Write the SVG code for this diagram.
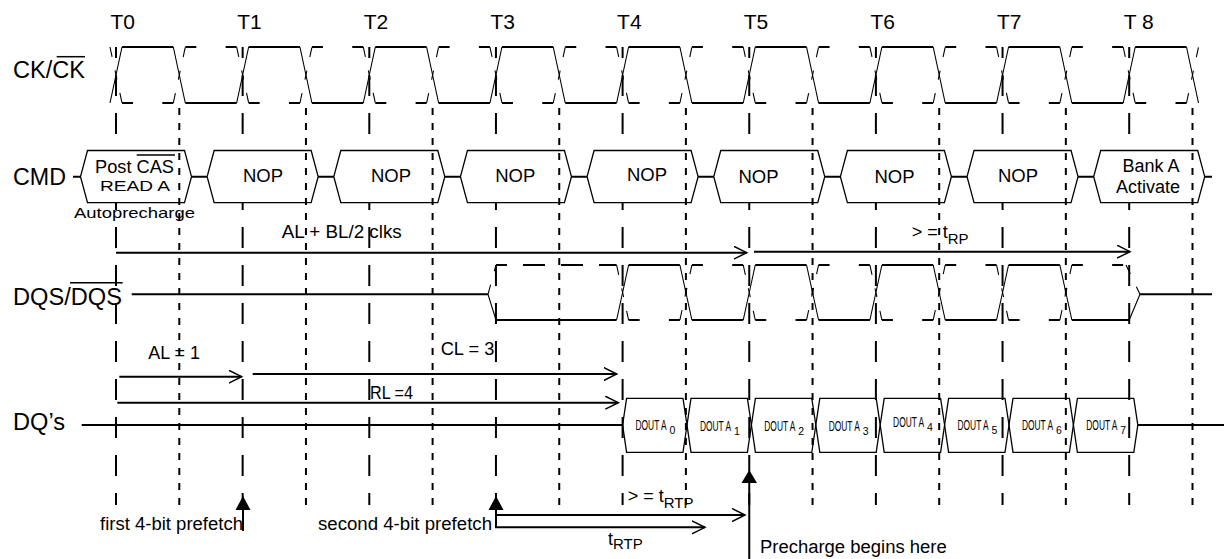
<svg xmlns="http://www.w3.org/2000/svg" width="1224" height="559" viewBox="0 0 1224 559">
<defs>
<style>
text{font-family:"Liberation Sans",Arial,sans-serif;fill:#000}
.h{stroke:#000;stroke-width:2;fill:none}
.s{stroke:#000;stroke-width:1.1;fill:none}
.dh{stroke-dasharray:11 29.3 11 60}
.ds{stroke-dasharray:10 14 9 14 10 60}
.tl{stroke:#000;stroke-width:2;fill:none;stroke-dasharray:21 17;stroke-dashoffset:10}
.fl{stroke:#000;stroke-width:2;fill:none;stroke-dasharray:7 8}
.box{fill:#fff;stroke:#000;stroke-width:1.3}
.dbox{fill:none;stroke:#000;stroke-width:1.3}
.arr{stroke:#000;stroke-width:2;fill:none;marker-end:url(#oa)}
.lbl{font-size:23.5px}
.t{font-size:21px}
.m{font-size:18px}
.n{font-size:18.5px}
.d{font-size:14px}
.sub{font-size:10.5px}
</style>
<marker id="oa" markerUnits="userSpaceOnUse" markerWidth="16" markerHeight="16" refX="13" refY="7" orient="auto"><path d="M0,0.5 L13,7 L0,13.5" fill="none" stroke="#000" stroke-width="1.5"/></marker>
</defs>
<rect width="1224" height="559" fill="#fff"/>

<g id="time-labels" class="t">
<text x="110.5" y="29">T0</text>
<text x="237.2" y="29">T1</text>
<text x="363.8" y="29">T2</text>
<text x="490.5" y="29">T3</text>
<text x="617.1" y="29">T4</text>
<text x="743.8" y="29">T5</text>
<text x="870.4" y="29">T6</text>
<text x="997" y="29">T7</text>
<text x="1123.7" y="29">T 8</text>
</g>

<g id="grid-rising">
<path class="tl" d="M116,47V505M242.65,47V505M369.3,47V505M495.95,47V505M622.6,47V505M749.25,47V505M875.9,47V505M1002.55,47V505M1129.2,47V505"/>
</g>

<g id="row-labels">
<text class="lbl" x="13" y="77.5" textLength="72" lengthAdjust="spacingAndGlyphs">CK/CK</text>
<line x1="56.7" y1="56.7" x2="85" y2="56.7" stroke="#000" stroke-width="1.5"/>
<text class="lbl" x="13" y="185" textLength="53" lengthAdjust="spacingAndGlyphs">CMD</text>
<text class="lbl" x="13" y="305" textLength="109" lengthAdjust="spacingAndGlyphs">DQS/DQS</text>
<line x1="70" y1="282.7" x2="122.7" y2="282.7" stroke="#000" stroke-width="1.5"/>
<text class="lbl" x="13" y="430" textLength="52" lengthAdjust="spacingAndGlyphs">DQ’s</text>
</g>

<g id="signal-ck">
<path class="h" d="M122,47H173.3M248.65,47H299.95M375.3,47H426.6M501.95,47H553.25M628.6,47H679.9M755.25,47H806.55M881.9,47H933.2M1008.55,47H1059.85M1135.2,47H1186.5M185.3,103H236.65M311.95,103H363.3M438.6,103H489.95M565.25,103H616.6M691.9,103H743.25M818.55,103H869.9M945.2,103H996.55M1071.85,103H1123.2"/>
<path class="s" d="M110,103L122,47M236.65,103L248.65,47M363.3,103L375.3,47M489.95,103L501.95,47M616.6,103L628.6,47M743.25,103L755.25,47M869.9,103L881.9,47M996.55,103L1008.55,47M1123.2,103L1135.2,47M173.3,47L185.3,103M299.95,47L311.95,103M426.6,47L438.6,103M553.25,47L565.25,103M679.9,47L691.9,103M806.55,47L818.55,103M933.2,47L945.2,103M1059.85,47L1071.85,103M1186.5,47L1198.5,103"/>
</g>
<g id="signal-ck-n">
<path class="h dh" d="M122,103H173.3M248.65,103H299.95M375.3,103H426.6M501.95,103H553.25M628.6,103H679.9M755.25,103H806.55M881.9,103H933.2M1008.55,103H1059.85M1135.2,103H1186.5M185.3,47H236.65M311.95,47H363.3M438.6,47H489.95M565.25,47H616.6M691.9,47H743.25M818.55,47H869.9M945.2,47H996.55M1071.85,47H1123.2"/>
<path class="s ds" d="M110,47L122,103M236.65,47L248.65,103M363.3,47L375.3,103M489.95,47L501.95,103M616.6,47L628.6,103M743.25,47L755.25,103M869.9,47L881.9,103M996.55,47L1008.55,103M1123.2,47L1135.2,103M173.3,103L185.3,47M299.95,103L311.95,47M426.6,103L438.6,47M553.25,103L565.25,47M679.9,103L691.9,47M806.55,103L818.55,47M933.2,103L945.2,47M1059.85,103L1071.85,47M1186.5,103L1198.5,47"/>
</g>

<g id="cmd-bus">
<path class="h" d="M73,176.7H1212" stroke-width="1.6"/>
</g>
<g id="cmd-0"><polygon class="box" points="80.5,176.7 87.5,150.5 184.5,150.5 191.5,176.7 184.5,202.7 87.5,202.7"/></g>
<g id="cmd-1"><polygon class="box" points="207.15,176.7 214.15,150.5 311.15,150.5 318.15,176.7 311.15,202.7 214.15,202.7"/></g>
<g id="cmd-2"><polygon class="box" points="333.8,176.7 340.8,150.5 437.8,150.5 444.8,176.7 437.8,202.7 340.8,202.7"/></g>
<g id="cmd-3"><polygon class="box" points="460.45,176.7 467.45,150.5 564.45,150.5 571.45,176.7 564.45,202.7 467.45,202.7"/></g>
<g id="cmd-4"><polygon class="box" points="587.1,176.7 594.1,150.5 691.1,150.5 698.1,176.7 691.1,202.7 594.1,202.7"/></g>
<g id="cmd-5"><polygon class="box" points="713.75,176.7 720.75,150.5 817.75,150.5 824.75,176.7 817.75,202.7 720.75,202.7"/></g>
<g id="cmd-6"><polygon class="box" points="840.4,176.7 847.4,150.5 944.4,150.5 951.4,176.7 944.4,202.7 847.4,202.7"/></g>
<g id="cmd-7"><polygon class="box" points="967.05,176.7 974.05,150.5 1071.05,150.5 1078.05,176.7 1071.05,202.7 974.05,202.7"/></g>
<g id="cmd-8"><polygon class="box" points="1093.7,176.7 1100.7,150.5 1197.7,150.5 1204.7,176.7 1197.7,202.7 1100.7,202.7"/></g>

<g id="grid-falling">
<path class="fl" d="M179.3,108V505M305.95,108V505M432.6,108V505M559.25,108V505M685.9,108V505M812.55,108V505M939.2,108V505M1065.85,108V505M1192.5,108V505"/>
</g>

<g id="cmd-text" class="m">
<text x="95" y="172.7" textLength="79" lengthAdjust="spacingAndGlyphs">Post CAS</text>
<line x1="136.7" y1="155" x2="175" y2="155" stroke="#000" stroke-width="1.5"/>
<text x="100" y="190.7" font-size="15" textLength="70" lengthAdjust="spacingAndGlyphs">READ A</text>
<text x="74" y="218" font-size="15" textLength="121" lengthAdjust="spacingAndGlyphs">Autoprecharge</text>
<text class="n" x="263" y="181.7" text-anchor="middle">NOP</text>
<text class="n" x="391" y="182" text-anchor="middle">NOP</text>
<text class="n" x="515.3" y="182.3" text-anchor="middle">NOP</text>
<text class="n" x="647" y="181" text-anchor="middle">NOP</text>
<text class="n" x="758.5" y="183.3" text-anchor="middle">NOP</text>
<text class="n" x="894.5" y="183.3" text-anchor="middle">NOP</text>
<text class="n" x="1018" y="181.7" text-anchor="middle">NOP</text>
<text x="1151" y="171.7" text-anchor="middle">Bank A</text>
<text x="1148" y="193.3" text-anchor="middle">Activate</text>
</g>

<g id="signal-dqs">
<path class="h" d="M131.7,294.3H488M496,320H616.6M628.6,265H679.9M691.9,320H743.25M755.25,265H806.55M818.55,320H869.9M881.9,265H933.2M945.2,320H996.55M1008.55,265H1059.85M1071.85,320H1129.2M1140,294.3H1212"/>
<path class="s" d="M488,294.3L496,320M616.6,320L628.6,265M679.9,265L691.9,320M743.25,320L755.25,265M806.55,265L818.55,320M869.9,320L881.9,265M933.2,265L945.2,320M996.55,320L1008.55,265M1059.85,265L1071.85,320M1129.2,320L1140,294.3"/>
</g>
<g id="signal-dqs-n">
<path class="h" d="M496,265H616.6" stroke-dasharray="22 16" stroke-dashoffset="11"/>
<path class="h dh" d="M628.6,320H679.9M691.9,265H743.25M755.25,320H806.55M818.55,265H869.9M881.9,320H933.2M945.2,265H996.55M1008.55,320H1059.85M1071.85,265H1126"/>
<path class="s ds" d="M488,294.3L496,265M616.6,265L628.6,320M679.9,320L691.9,265M743.25,265L755.25,320M806.55,320L818.55,265M869.9,265L881.9,320M933.2,320L945.2,265M996.55,265L1008.55,320M1059.85,320L1071.85,265M1126,265L1140,294.3"/>
</g>

<g id="signal-dq">
<path class="h" d="M81.7,425H622.6M1137.8,425H1224"/>
<g id="dout-0"><polygon class="dbox" points="622.6,425 626.6,398.3 683,398.3 687,425 683,452.3 626.6,452.3"/><text class="d" transform="translate(635.5,430) scale(0.6,1)">DOUT A</text><text class="sub" x="669.5" y="434">0</text></g>
<g id="dout-1"><polygon class="dbox" points="687,425 691,398.3 747.4,398.3 751.4,425 747.4,452.3 691,452.3"/><text class="d" transform="translate(699.9,431) scale(0.6,1)">DOUT A</text><text class="sub" x="733.9" y="435">1</text></g>
<g id="dout-2"><polygon class="dbox" points="751.4,425 755.4,398.3 811.8,398.3 815.8,425 811.8,452.3 755.4,452.3"/><text class="d" transform="translate(764.3,431) scale(0.6,1)">DOUT A</text><text class="sub" x="798.3" y="435">2</text></g>
<g id="dout-3"><polygon class="dbox" points="815.8,425 819.8,398.3 876.2,398.3 880.2,425 876.2,452.3 819.8,452.3"/><text class="d" transform="translate(828.7,431) scale(0.6,1)">DOUT A</text><text class="sub" x="862.7" y="435">3</text></g>
<g id="dout-4"><polygon class="dbox" points="880.2,425 884.2,398.3 940.6,398.3 944.6,425 940.6,452.3 884.2,452.3"/><text class="d" transform="translate(893.1,427) scale(0.6,1)">DOUT A</text><text class="sub" x="927.1" y="431">4</text></g>
<g id="dout-5"><polygon class="dbox" points="944.6,425 948.6,398.3 1005,398.3 1009,425 1005,452.3 948.6,452.3"/><text class="d" transform="translate(957.5,430) scale(0.6,1)">DOUT A</text><text class="sub" x="991.5" y="434">5</text></g>
<g id="dout-6"><polygon class="dbox" points="1009,425 1013,398.3 1069.4,398.3 1073.4,425 1069.4,452.3 1013,452.3"/><text class="d" transform="translate(1021.9,430) scale(0.6,1)">DOUT A</text><text class="sub" x="1055.9" y="434">6</text></g>
<g id="dout-7"><polygon class="dbox" points="1073.4,425 1077.4,398.3 1133.8,398.3 1137.8,425 1133.8,452.3 1077.4,452.3"/><text class="d" transform="translate(1086.3,430) scale(0.6,1)">DOUT A</text><text class="sub" x="1120.3" y="434">7</text></g>
</g>

<g id="connectors">
<path class="arr" d="M116,252.7H746.7"/>
<path class="arr" d="M754,251.7H1130"/>
<path class="arr" d="M119.3,376.7H241.7"/>
<path class="arr" d="M252.7,374H616.7"/>
<path class="arr" d="M117.3,402.7H618.3"/>
<path class="arr" d="M496,515H745"/>
<path class="arr" d="M496,510V527.3H705"/>
<path class="h" d="M243,510V531M749.25,483V559"/>
<polygon points="243,496 235.5,510 250.5,510" fill="#000"/>
<polygon points="496,496 488.5,510 503.5,510" fill="#000"/>
<polygon points="749.25,470 741.5,483 757,483" fill="#000"/>
</g>

<g id="annotations" class="m">
<text x="281.7" y="238.3" textLength="120" lengthAdjust="spacingAndGlyphs">AL + BL/2 clks</text>
<text x="911.7" y="237.5">&gt; = t<tspan font-size="15" dy="6">RP</tspan></text>
<text x="148.3" y="359.3" textLength="51.7" lengthAdjust="spacingAndGlyphs">AL = 1</text>
<text x="440.7" y="355" textLength="53.6" lengthAdjust="spacingAndGlyphs">CL = 3</text>
<text x="370" y="399.3" textLength="43" lengthAdjust="spacingAndGlyphs">RL =4</text>
<text x="100" y="530" textLength="143" lengthAdjust="spacingAndGlyphs">first 4-bit prefetch</text>
<text x="318" y="530" textLength="174" lengthAdjust="spacingAndGlyphs">second 4-bit prefetch</text>
<text x="627.7" y="501.7">&gt; = t<tspan font-size="15" dy="6">RTP</tspan></text>
<text x="608" y="545">t<tspan font-size="15" dy="4">RTP</tspan></text>
<text x="760" y="553.3" textLength="186.7" lengthAdjust="spacingAndGlyphs">Precharge begins here</text>
</g>
</svg>
